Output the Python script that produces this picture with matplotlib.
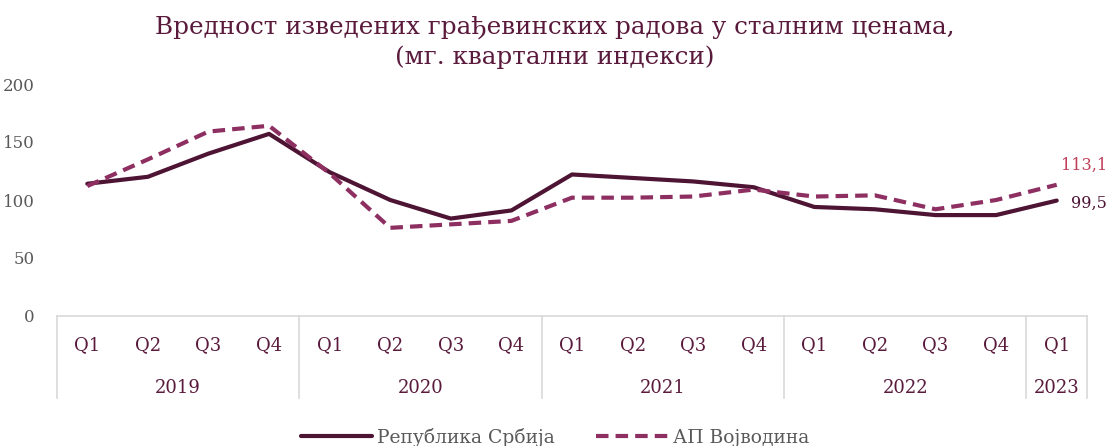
import matplotlib.pyplot as plt
import numpy as np

plt.rcParams['font.family'] = ['DejaVu Serif']

quarters = ['Q1', 'Q2', 'Q3', 'Q4'] * 4 + ['Q1']
years = ['2019', '2020', '2021', '2022', '2023']
year_len = [4, 4, 4, 4, 1]

srbija = [114, 120, 140, 157, 124, 100, 84, 91, 122, 119, 116, 111, 94, 92, 87, 87, 99.5]
vojvodina = [112, 135, 159, 164, 123, 76, 79, 82, 102, 102, 103, 109, 103, 104, 92, 100, 113.1]

c_srb = '#4e1434'
c_voj = '#8e2f62'
c_txt = '#5a1a3c'
c_grey = '#595959'
c_line = '#d9d9d9'

fig = plt.figure(figsize=(11.1, 4.46), dpi=100)
ax = fig.add_axes([57 / 1110, 1 - 316 / 446, 1030 / 1110, 232 / 446])

x = np.arange(len(srbija))
ax.plot(x, srbija, color=c_srb, lw=3, label='Република Србија', solid_capstyle='round')
ax.plot(x, vojvodina, color=c_voj, lw=3, ls=(0, (3, 1.7)), label='АП Војводина')

ax.set_xlim(-0.5, len(x) - 0.5)
ax.set_ylim(0, 200)
ax.set_yticks([0, 50, 100, 150, 200])
ax.tick_params(axis='y', length=0, labelsize=12, labelcolor=c_grey, pad=16)
ax.set_xticks([])
for s in ['left', 'right', 'top']:
    ax.spines[s].set_visible(False)
ax.spines['bottom'].set_color(c_line)
ax.spines['bottom'].set_linewidth(1.2)

# data labels for last point
ax.annotate('113,1', (x[-1], vojvodina[-1]), xytext=(3, 14), textcoords='offset points',
            color='#c0405a', fontsize=11.5, ha='left', va='center')
ax.annotate('99,5', (x[-1], srbija[-1]), xytext=(10, -2), textcoords='offset points',
            color=c_srb, fontsize=11.5, ha='left', va='center')

# two-level category axis
trans = ax.get_xaxis_transform()
for i, q in enumerate(quarters):
    ax.text(i, -0.125, q, transform=trans, ha='center', va='center', fontsize=13, color=c_txt)
start = 0
bounds = [-0.5]
for y, n in zip(years, year_len):
    ax.text(start + (n - 1) / 2, -0.31, y, transform=trans, ha='center', va='center',
            fontsize=13, color=c_txt)
    start += n
    bounds.append(start - 0.5)
for b in bounds:
    ax.plot([b, b], [0, -0.355], transform=trans, color=c_line, lw=1.2, clip_on=False)

fig.text(0.5, 0.905, 'Вредност изведених грађевинских радова у сталним ценама,\n(мг. квартални индекси)',
         ha='center', va='center', fontsize=17.7, color=c_txt, linespacing=1.35)

leg = fig.legend(loc='center', bbox_to_anchor=(0.5, 0.02), ncol=2, frameon=False,
                 fontsize=13.5, handlelength=3.8, handletextpad=0.3, columnspacing=2.2)
for t in leg.get_texts():
    t.set_color(c_grey)

fig.savefig('out.png', dpi=100)
